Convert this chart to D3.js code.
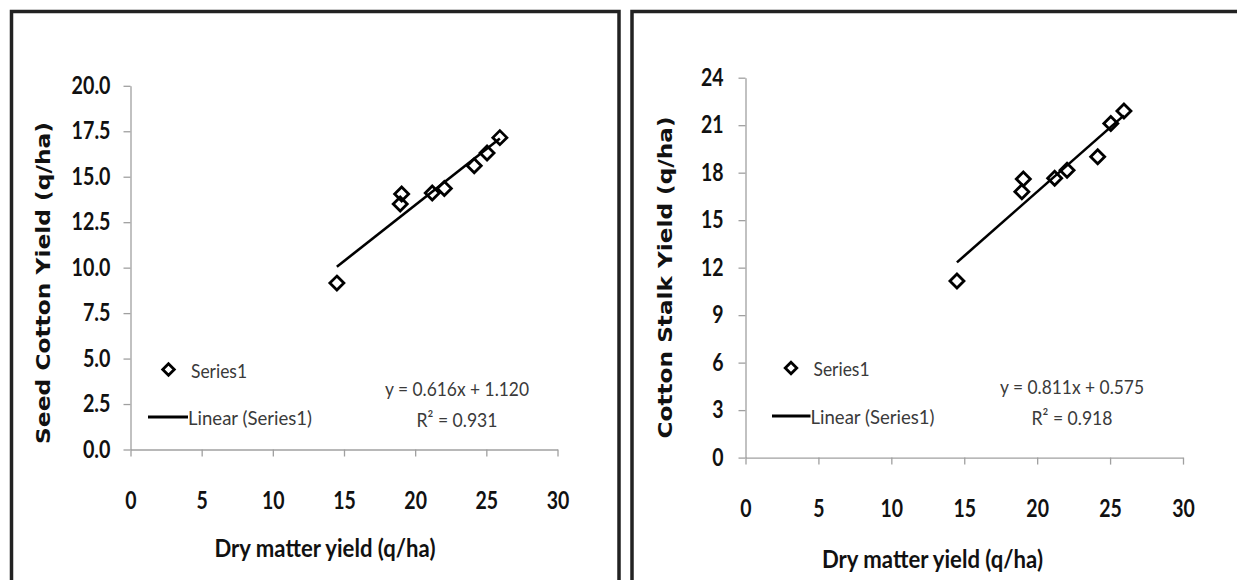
<!DOCTYPE html>
<html>
<head>
<meta charset="utf-8">
<script src="https://cdn.jsdelivr.net/npm/d3@7"></script>
<style>
  html, body { margin: 0; padding: 0; background: #fff; overflow: hidden; }
  svg { display: block; }
</style>
</head>
<body>
<svg id="chart" width="1237" height="580"></svg>
<script>
// ---- data ----
const dryMatter = [14.5, 18.95, 19.05, 21.2, 22.05, 24.15, 25.05, 25.95];
const seedCotton = [9.15, 13.5, 14.05, 14.1, 14.35, 15.6, 16.3, 17.15];
const cottonStalk = [11.15, 16.8, 17.6, 17.65, 18.15, 19.0, 21.1, 21.9];

const xTicks = [0, 5, 10, 15, 20, 25, 30];
const yTicksLeft = [0, 2.5, 5, 7.5, 10, 12.5, 15, 17.5, 20];
const yTicksRight = [0, 3, 6, 9, 12, 15, 18, 21, 24];

const fitLeft = { slope: 0.616, intercept: 1.120, r2: "0.931", eq: "y = 0.616x + 1.120" };
const fitRight = { slope: 0.811, intercept: 0.575, r2: "0.918", eq: "y = 0.811x + 0.575" };

const xTitle = "Dry matter yield (q/ha)";
const yTitleLeft = "Seed Cotton Yield (q/ha)";
const yTitleRight = "Cotton Stalk Yield (q/ha)";
const legendMarker = "Series1";
const legendLine = "Linear (Series1)";

// ---- drawing ----
const svg = d3.select("#chart");
svg.append("rect").attr("width", 1237).attr("height", 580).attr("fill", "#fff");

// width of a tick label in a condensed bold face
function labelWidth(s) {
  let w = 0;
  for (const c of s) w += (c === ".") ? 5 : 11.3;
  return w;
}
function styleTickText(sel) {
  sel.attr("font-family", "Lato, 'Open Sans', sans-serif").attr("font-weight", "bold")
    .attr("font-size", 24).attr("fill", "#111")
    .attr("textLength", function () { return labelWidth(this.textContent); })
    .attr("lengthAdjust", "spacingAndGlyphs");
}

function panel(cfg) {
  const g = svg.append("g");
  // frame
  g.append("rect")
    .attr("x", cfg.frame[0]).attr("y", cfg.frame[1])
    .attr("width", cfg.frame[2]).attr("height", cfg.frame[3])
    .attr("fill", "none").attr("stroke", "#222").attr("stroke-width", 3.5);

  const x = d3.scaleLinear().domain([0, 30]).range(cfg.xr);
  const y = d3.scaleLinear().domain(cfg.yDomain).range(cfg.yr);

  // y axis
  const yAx = g.append("g").attr("transform", `translate(${cfg.xr[0]},0)`)
    .call(d3.axisLeft(y).tickValues(cfg.yTicks).tickFormat(cfg.yFmt).tickSize(7).tickSizeOuter(0).tickPadding(cfg.yPad));
  yAx.select(".domain").attr("stroke", "#a0a0a0").attr("stroke-width", 1.3);
  yAx.selectAll(".tick line").attr("stroke", "#a0a0a0").attr("stroke-width", 1.3);
  styleTickText(yAx.selectAll(".tick text"));

  // x axis
  const xAx = g.append("g").attr("transform", `translate(0,${cfg.yr[0]})`)
    .call(d3.axisBottom(x).tickValues(xTicks).tickFormat(d3.format("d")).tickSize(7).tickSizeOuter(0));
  xAx.select(".domain").attr("stroke", "#a0a0a0").attr("stroke-width", 1.3);
  xAx.selectAll(".tick line").attr("stroke", "#a0a0a0").attr("stroke-width", 1.3);
  styleTickText(xAx.selectAll(".tick text").attr("y", 51.5).attr("dy", "0.35em"));

  // titles
  g.append("text")
    .attr("x", cfg.xTitlePos[0]).attr("y", cfg.xTitlePos[1])
    .attr("text-anchor", "middle").attr("dominant-baseline", "central")
    .attr("font-family", "Lato, 'Open Sans', sans-serif").attr("font-weight", "bold")
    .attr("font-size", 24).attr("fill", "#111")
    .attr("textLength", 221).attr("lengthAdjust", "spacingAndGlyphs")
    .text(xTitle);
  g.append("text")
    .attr("transform", `translate(${cfg.yTitlePos[0]},${cfg.yTitlePos[1]}) rotate(-90)`)
    .attr("text-anchor", "middle").attr("dominant-baseline", "central")
    .attr("font-family", "'DejaVu Sans', Verdana, sans-serif").attr("font-weight", "bold")
    .attr("font-size", 20).attr("fill", "#111")
    .attr("textLength", 322).attr("lengthAdjust", "spacingAndGlyphs")
    .text(cfg.yTitle);

  // trend line
  const xmin = d3.min(dryMatter), xmax = d3.max(dryMatter);
  g.append("line")
    .attr("x1", x(xmin)).attr("y1", y(cfg.fit.slope * xmin + cfg.fit.intercept))
    .attr("x2", x(xmax)).attr("y2", y(cfg.fit.slope * xmax + cfg.fit.intercept))
    .attr("stroke", "#000").attr("stroke-width", 2.6);

  // markers
  const diamond = d3.symbol().type(d3.symbolDiamond2).size(125);
  g.selectAll("path.pt").data(dryMatter.map((d, i) => [d, cfg.values[i]])).enter()
    .append("path").attr("class", "pt")
    .attr("transform", d => `translate(${x(d[0])},${y(d[1])})`)
    .attr("d", diamond)
    .attr("fill", "none").attr("stroke", "#000").attr("stroke-width", 2.8);

  // legend
  const L = cfg.legend;
  const txt = (sel) => sel.attr("font-family", "Lato, 'Open Sans', sans-serif").attr("font-size", 20)
    .attr("fill", "#3a3a3a").attr("dominant-baseline", "central").attr("lengthAdjust", "spacingAndGlyphs");
  g.append("path")
    .attr("transform", `translate(${L.dx},${L.dy})`)
    .attr("d", d3.symbol().type(d3.symbolDiamond2).size(85))
    .attr("fill", "none").attr("stroke", "#000").attr("stroke-width", 2.8);
  g.append("text").attr("x", L.tx).attr("y", L.dy).call(txt)
    .attr("textLength", 56).text(legendMarker);
  g.append("line").attr("x1", L.lx1).attr("x2", L.lx2).attr("y1", L.ly).attr("y2", L.ly)
    .attr("stroke", "#000").attr("stroke-width", 2.8);
  g.append("text").attr("x", L.lx2).attr("y", L.ly).call(txt)
    .attr("textLength", 124).text(legendLine);

  // equation
  const E = cfg.eqPos;
  g.append("text").attr("x", E[0]).attr("y", E[1]).attr("text-anchor", "middle").call(txt)
    .attr("textLength", 144).text(cfg.fit.eq);
  g.append("text").attr("x", E[0]).attr("y", E[2]).attr("text-anchor", "middle").call(txt)
    .attr("textLength", 81).text("R\u00B2 = " + cfg.fit.r2);
}

panel({
  frame: [11.5, 11.5, 607.5, 600],
  xr: [130.5, 557.5], yr: [449.5, 85.8], yDomain: [0, 20],
  yTicks: yTicksLeft, yFmt: d3.format(".1f"), yPad: 13,
  values: seedCotton, fit: fitLeft,
  xTitlePos: [325, 547.5], yTitlePos: [43, 283], yTitle: yTitleLeft,
  legend: { dx: 168.5, dy: 369.5, tx: 191, lx1: 148, lx2: 188, ly: 417 },
  eqPos: [457, 387.5, 419]
});

panel({
  frame: [632, 11.5, 620, 600],
  xr: [745.5, 1183], yr: [457.6, 77.7], yDomain: [0, 24],
  yTicks: yTicksRight, yFmt: d3.format("d"), yPad: 15,
  values: cottonStalk, fit: fitRight,
  xTitlePos: [932.5, 558], yTitlePos: [665, 277.5], yTitle: yTitleRight,
  legend: { dx: 791, dy: 368, tx: 813.5, lx1: 772, lx2: 810.5, ly: 416 },
  eqPos: [1072, 385.5, 417]
});
</script>
</body>
</html>
